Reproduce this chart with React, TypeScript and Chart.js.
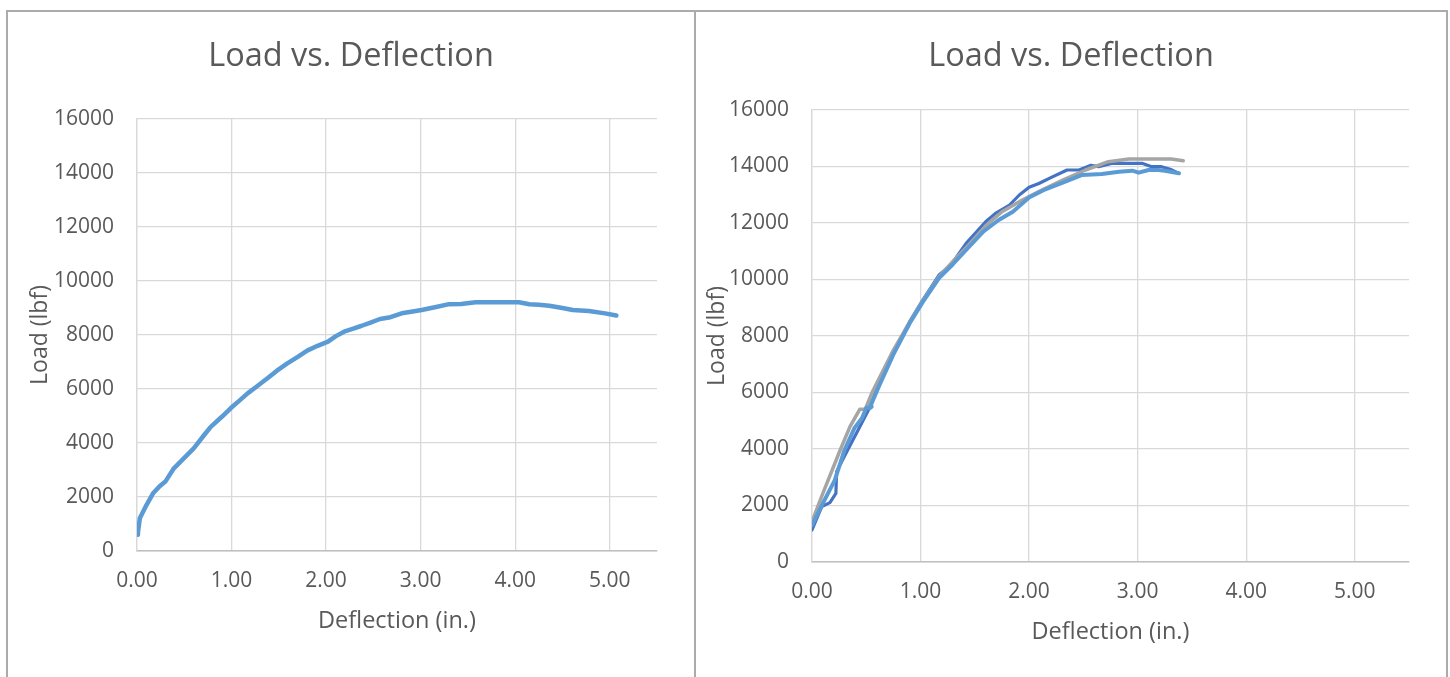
import React, { useEffect, useRef } from "react";
import { Chart, registerables } from "chart.js";

Chart.register(...registerables);

// ---------- Data ----------
const CHART_TITLE = "Load vs. Deflection";
const X_TITLE = "Deflection (in.)";
const Y_TITLE = "Load (lbf)";
const X_TICKS = [0, 1, 2, 3, 4, 5];
const Y_TICKS = [0, 2000, 4000, 6000, 8000, 10000, 12000, 14000, 16000];

// Left chart: single specimen
const leftX = [0.0, 0.01, 0.03, 0.1, 0.17, 0.24, 0.3, 0.39, 0.5, 0.6, 0.7, 0.78, 0.9, 0.99, 1.08, 1.17, 1.27, 1.38, 1.48, 1.59, 1.7, 1.8, 1.91, 2.02, 2.1, 2.19, 2.28, 2.37, 2.47, 2.57, 2.68, 2.8, 2.9, 3.01, 3.15, 3.29, 3.43, 3.58, 3.8, 4.04, 4.15, 4.25, 4.36, 4.5, 4.61, 4.78, 4.95, 5.07];
const leftY = [600, 700, 1210, 1700, 2137, 2400, 2570, 3063, 3450, 3800, 4250, 4600, 4980, 5285, 5560, 5840, 6100, 6396, 6680, 6950, 7190, 7420, 7600, 7753, 7950, 8123, 8230, 8333, 8460, 8593, 8660, 8803, 8860, 8926, 9030, 9136, 9150, 9210, 9210, 9210, 9140, 9120, 9086, 9000, 8926, 8890, 8800, 8720];

// Right chart: three specimens
const lightBlueX = [0.0, 0.1, 0.21, 0.3, 0.39, 0.46, 0.5, 0.55, 0.53, 0.62, 0.75, 0.9, 1.02, 1.17, 1.3, 1.42, 1.58, 1.72, 1.85, 2.0, 2.15, 2.31, 2.49, 2.67, 2.83, 2.95, 3.01, 3.1, 3.19, 3.25, 3.38];
const lightBlueY = [1300, 2078, 2900, 3965, 4732, 5086, 5450, 5500, 5440, 6250, 7350, 8450, 9200, 10050, 10550, 11044, 11700, 12106, 12400, 12900, 13192, 13428, 13700, 13735, 13816, 13852, 13782, 13876, 13876, 13852, 13760];

const greyX = [0.0, 0.1, 0.26, 0.35, 0.44, 0.49, 0.55, 0.75, 0.9, 1.02, 1.17, 1.3, 1.45, 1.6, 1.75, 1.91, 2.09, 2.31, 2.52, 2.73, 2.92, 3.13, 3.31, 3.42];
const greyY = [1427, 2430, 3965, 4790, 5405, 5405, 5970, 7504, 8500, 9250, 10100, 10650, 11250, 11900, 12400, 12755, 13109, 13522, 13876, 14170, 14265, 14265, 14265, 14206];

const darkBlueX = [0.0, 0.09, 0.165, 0.22, 0.227, 0.32, 0.425, 0.52, 0.62, 0.75, 0.9, 1.02, 1.17, 1.28, 1.42, 1.6, 1.69, 1.82, 1.91, 2.0, 2.09, 2.2, 2.35, 2.46, 2.57, 2.64, 2.76, 2.9, 3.04, 3.13, 3.22, 3.3, 3.38];
const darkBlueY = [1133, 1958, 2100, 2430, 3200, 3905, 4672, 5380, 6325, 7387, 8507, 9274, 10159, 10513, 11280, 12046, 12340, 12637, 12991, 13263, 13400, 13605, 13876, 13876, 14042, 13993, 14112, 14112, 14112, 13993, 13993, 13900, 13758];

// ---------- Styling ----------
const FONT = "'Open Sans', 'DejaVu Sans', sans-serif";
const TEXT = "#595959";
const GRID = "#d9d9d9";
const FRAME = "#ababab";

const toPoints = (xs: number[], ys: number[]) => xs.map((x, i) => ({ x, y: ys[i] }));

type Layout = {
  left: number;
  width: number;
  height: number;
  padRight: number;
  titleBottom: number;
  yWidth: number;
  yTitlePad: number;
  xHeight: number;
  xTitlePad: number;
};

function makeConfig(datasets: any[], L: Layout): any {
  return {
    type: "scatter",
    data: { datasets },
    options: {
      animation: false,
      responsive: false,
      maintainAspectRatio: false,
      events: [],
      layout: { padding: 0 },
      plugins: {
        legend: { display: false },
        tooltip: { enabled: false },
        title: {
          display: true,
          text: CHART_TITLE,
          color: TEXT,
          font: { family: FONT, size: 32.5, weight: "normal" },
          padding: { top: 37.5, bottom: L.titleBottom },
        },
      },
      scales: {
        x: {
          type: "linear",
          min: 0,
          max: 5.5,
          afterBuildTicks: (s: any) => {
            s.ticks = X_TICKS.map((v) => ({ value: v }));
          },
          ticks: {
            stepSize: 1,
            includeBounds: false,
            color: TEXT,
            font: { family: FONT, size: 21 },
            padding: 17,
            callback: (v: any) => Number(v).toFixed(2),
          },
          grid: { color: GRID, lineWidth: 1.3, drawTicks: false },
          border: { color: "#bfbfbf", width: 1.5 },
          title: {
            display: true,
            text: X_TITLE,
            color: TEXT,
            font: { family: FONT, size: 23.5 },
            padding: { top: 0, bottom: L.xTitlePad },
          },
          afterFit: (s: any) => {
            s.height = L.xHeight;
          },
        },
        y: {
          type: "linear",
          min: 0,
          max: 16000,
          afterBuildTicks: (s: any) => {
            s.ticks = Y_TICKS.map((v) => ({ value: v }));
          },
          ticks: {
            stepSize: 2000,
            color: TEXT,
            font: { family: FONT, size: 21 },
            padding: 23,
            callback: (v: any) => String(v),
          },
          grid: { color: GRID, lineWidth: 1.3, drawTicks: false },
          border: { color: GRID, width: 1.3 },
          title: {
            display: true,
            text: Y_TITLE,
            color: TEXT,
            font: { family: FONT, size: 23 },
            padding: { top: L.yTitlePad, bottom: 0 },
          },
          afterFit: (s: any) => {
            s.width = L.yWidth;
          },
        },
        // empty right-hand spacer so the title is centred on the whole chart box
        spacer: {
          type: "linear",
          position: "right",
          display: true,
          min: 0,
          max: 1,
          grid: { display: false, drawTicks: false },
          border: { display: false },
          ticks: { display: false },
          afterFit: (s: any) => {
            s.width = L.padRight;
          },
        },
      },
    },
  };
}

function line(data: any[], color: string, width: number) {
  return {
    data,
    showLine: true,
    borderColor: color,
    backgroundColor: color,
    borderWidth: width,
    pointRadius: 0,
    tension: 0,
    borderCapStyle: "round",
    borderJoinStyle: "round",
  };
}

function ChartCanvas({ config, left, width, height }: { config: any; left: number; width: number; height: number }) {
  const ref = useRef<HTMLCanvasElement | null>(null);
  useEffect(() => {
    if (!ref.current) return;
    const chart = new Chart(ref.current, config);
    return () => chart.destroy();
  }, [config]);
  return (
    <canvas
      ref={ref}
      width={width}
      height={height}
      style={{ position: "absolute", left, top: 0, width, height }}
    />
  );
}

const leftLayout: Layout = {
  left: 8,
  width: 686,
  height: 677,
  padRight: 37,
  titleBottom: 42.5,
  yWidth: 129,
  yTitlePad: 19,
  xHeight: 126,
  xTitlePad: 42,
};

const rightLayout: Layout = {
  left: 696,
  width: 750,
  height: 677,
  padRight: 37,
  titleBottom: 33.5,
  yWidth: 116,
  yTitlePad: 8,
  xHeight: 115,
  xTitlePad: 31,
};

const leftConfig = makeConfig([line(toPoints(leftX, leftY), "#5b9bd5", 4.5)], leftLayout);
const rightConfig = makeConfig(
  [
    line(toPoints(lightBlueX, lightBlueY), "#5b9bd5", 4),
    line(toPoints(greyX, greyY), "#a5a5a5", 3.5),
    line(toPoints(darkBlueX, darkBlueY), "#4472c4", 3.2),
  ],
  rightLayout
);

export default function App() {
  const frame = (style: React.CSSProperties) => (
    <div style={{ position: "absolute", background: FRAME, ...style }} />
  );
  return (
    <div style={{ position: "fixed", left: 0, top: 0, width: 1450, height: 677, background: "#fff", overflow: "hidden" }}>
      <ChartCanvas config={leftConfig} left={leftLayout.left} width={leftLayout.width} height={leftLayout.height} />
      <ChartCanvas config={rightConfig} left={rightLayout.left} width={rightLayout.width} height={rightLayout.height} />
      {frame({ left: 6, top: 10, width: 1442, height: 2 })}
      {frame({ left: 6, top: 10, width: 2, height: 667 })}
      {frame({ left: 694, top: 10, width: 2, height: 667 })}
      {frame({ left: 1446, top: 10, width: 2, height: 667 })}
    </div>
  );
}
